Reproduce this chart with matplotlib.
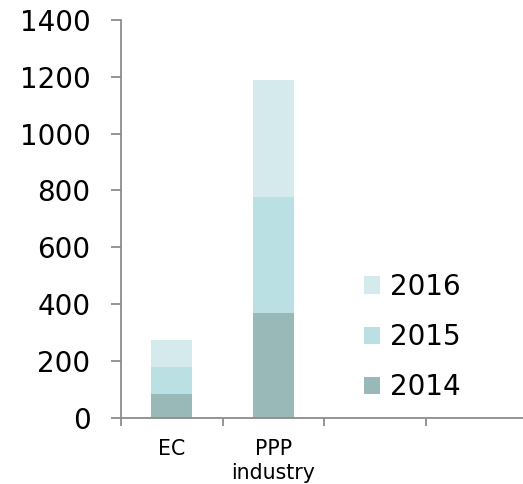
import matplotlib.pyplot as plt
import numpy as np

categories = ['EC', 'PPP\nindustry', '', '']
years = ['2014', '2015', '2016']
values_2014 = [85, 367, 0, 0]
values_2015 = [95, 410, 0, 0]
values_2016 = [95, 410, 0, 0]
colors = ['#99b8b8', '#bae0e3', '#d5eaed']

fig = plt.figure(figsize=(5.23, 4.84), dpi=100)
ax = fig.add_axes([121 / 523, 0.137, 406 / 523, 0.8217])

x = np.arange(len(categories))
bottom = np.zeros(len(categories))
for vals, col, yr in zip([values_2014, values_2015, values_2016], colors, years):
    ax.bar(x, vals, width=0.4, bottom=bottom, color=col, label=yr)
    bottom += np.array(vals)

ax.set_xlim(-0.5, 3.5)
ax.set_ylim(0, 1400)
ax.set_yticks(range(0, 1401, 200))

axis_col = '#8c8c8c'
for s in ['top', 'right']:
    ax.spines[s].set_visible(False)
for s in ['left', 'bottom']:
    ax.spines[s].set_color(axis_col)
    ax.spines[s].set_linewidth(1.3)

ax.tick_params(axis='y', labelsize=20, length=7.5, width=1.3, color=axis_col, pad=14.5)
ax.set_xticks(x)
ax.set_xticklabels(categories, fontsize=14.8, linespacing=1.25)
ax.set_xticks(np.arange(-0.5, 3.5, 1), minor=True)
ax.tick_params(axis='x', which='major', length=0, pad=15)
ax.tick_params(axis='x', which='minor', length=6, width=1.3, color=axis_col)

handles, labels = ax.get_legend_handles_labels()
ax.legend(handles[::-1], labels[::-1], frameon=False, fontsize=20,
          loc='upper left', bbox_to_anchor=(0.57, 0.392),
          handlelength=0.6, handleheight=0.6, handletextpad=0.35,
          labelspacing=0.8, borderaxespad=0)

fig.savefig('out.png', dpi=100)
